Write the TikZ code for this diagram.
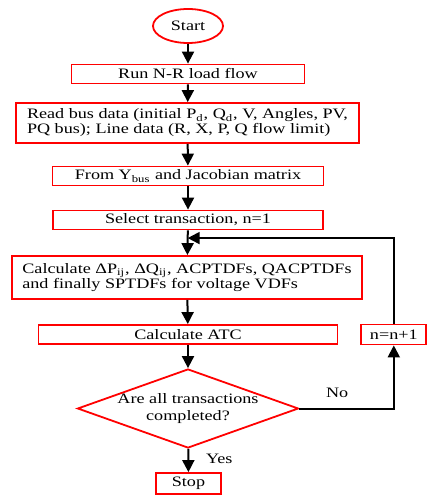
\documentclass[tikz,border=0pt]{standalone}
\usepackage{fontspec}
\setmainfont{Liberation Serif}[FakeStretch=1.26]
\usetikzlibrary{positioning,arrows.meta,shapes.geometric,calc}

\begin{document}
\begin{tikzpicture}[
  x=0.5pt, y=-0.5pt,
  font=\fontsize{7.2}{7.5}\selectfont,
  >={Triangle[length=6pt,width=6pt]},
  box/.style={draw=red, line width=0.9pt, align=center,
              inner sep=1pt, minimum height=9.5pt},
  term/.style={ellipse, draw=red, line width=0.9pt, inner sep=0pt,
               minimum width=35pt, minimum height=17pt},
  decide/.style={diamond, draw=red, line width=0.9pt, align=center,
                 inner xsep=-4pt, inner ysep=-1pt, aspect=2.8,
                 minimum width=110.5pt, minimum height=39.5pt},
  flow/.style={->, line width=1pt},
]
\useasboundingbox (0,0) rectangle (433,502);

% main chain
\node[term] (start) at (188,26) {Start};
\node[box, minimum width=116.5pt] (nrflow) at (188,74) {Run N-R load flow};
\node[box, align=left, minimum width=171.5pt, minimum height=20pt]
  (readdata) at (187.5,123)
  {Read bus data (initial P\textsubscript{d}, Q\textsubscript{d}, V, Angles, PV,\\
   PQ bus); Line data (R, X, P, Q flow limit)};
\node[box, minimum width=135.5pt] (ybus) at (188,176)
  {From Y\textsubscript{bus} and Jacobian matrix};
\node[box, minimum width=135pt] (select) at (188,220)
  {Select transaction, n=1};
\node[box, align=left, minimum width=175pt, minimum height=21.5pt]
  (calcdf) at (187,277.5)
  {Calculate ΔP\textsubscript{ij}, ΔQ\textsubscript{ij}, ACPTDFs, QACPTDFs\\
   and finally SPTDFs for voltage VDFs};
\node[box, minimum width=149.5pt] (atc) at (188,334.5) {Calculate ATC};
\node[decide] (done) at (188,408.5) {Are all transactions\\[1pt]completed?};
\node[box, minimum width=32.5pt, minimum height=10.5pt] (stop) at (188.5,483.5) {Stop};

% loop counter
\node[box, minimum width=32.5pt, minimum height=10pt, right=11pt of atc]
  (incr) {n=n+1};
\coordinate (join) at ($(select.south)!0.31!(calcdf.north)$);

% arrows
\draw[flow] (start)    -- (nrflow);
\draw[flow] (nrflow)   -- (readdata);
\draw[flow] (readdata) -- (ybus);
\draw[flow] (ybus)     -- (select);
\draw[flow] (select)   -- (calcdf);
\draw[flow] (calcdf)   -- (atc);
\draw[flow] (atc)      -- (done);
\draw[flow] (done) -- node[right=5pt, pos=0.45] {Yes} (stop);
\draw[flow] (done.east) -| node[above=1.5pt, pos=0.2] {No} (incr.south);
\draw[flow] (incr.north) |- (join);

\end{tikzpicture}
\end{document}
